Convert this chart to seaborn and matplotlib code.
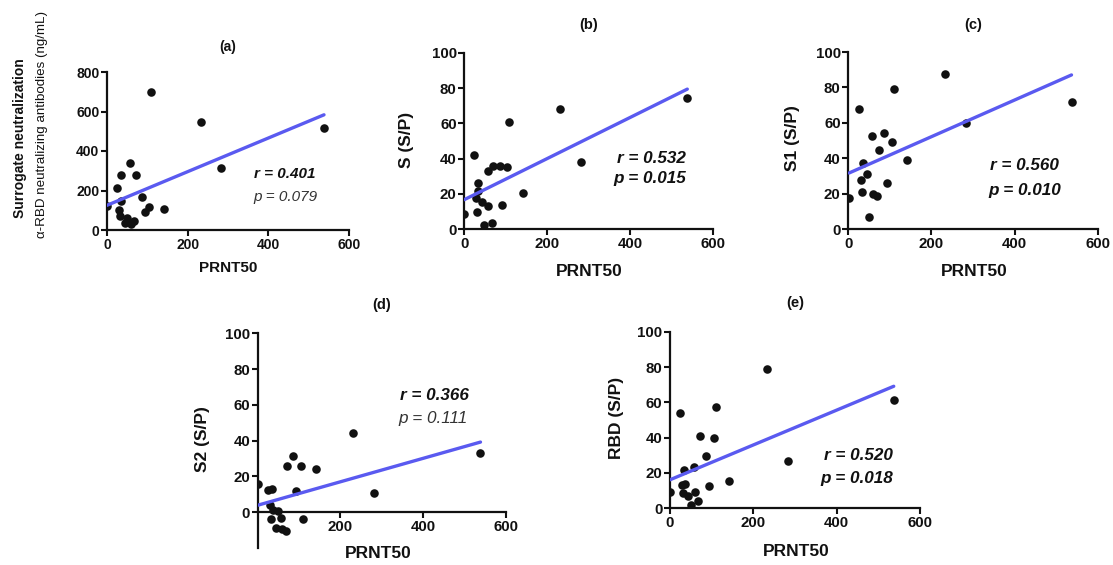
import matplotlib
matplotlib.use("Agg")
import matplotlib.pyplot as plt
import seaborn as sns
import numpy as np
import pandas as pd

sns.set_theme(style="ticks")
plt.rcParams['font.family'] = ['Liberation Sans', 'DejaVu Sans']

# ---- data ----
a_x = [0, 25, 29, 35, 35, 31, 45, 50, 58, 60, 68, 73, 87, 94, 105, 110, 142, 232, 283, 538]
a_y = [123, 214, 101, 281, 147, 71, 37, 62, 340, 29, 47, 281, 168, 93, 115, 699, 104, 546, 315, 517]

b_x = [0, 23, 28, 31, 34, 34, 43, 48, 56, 58, 67, 70, 86, 92, 104, 108, 141, 231, 282, 538]
b_y = [8.5, 42, 17.5, 10, 26.4, 21.7, 15.7, 2.5, 33, 13, 3.4, 36, 36, 14, 35.5, 61, 20.4, 68, 38, 74.5]

c_x = [2, 26, 30, 33, 34.5, 45, 50.5, 58, 58.5, 68, 74, 87, 94, 105, 110, 142, 232.6, 283, 537]
c_y = [17.9, 67.7, 27.8, 20.9, 37.2, 31.2, 7, 52.6, 19.9, 19, 45, 54.5, 26.3, 49, 79, 39, 87.8, 59.8, 72]

d_x = [0, 24, 34, 30, 36, 31, 44, 50, 56, 58, 68, 72, 86, 93, 104, 110, 141, 231, 282, 539]
d_y = [15.9, 12.5, 13, 4.3, 1.0, -3.7, -9, 0.6, -3.4, -9.3, -10.3, 25.8, 31.4, 11.8, 25.6, -4, 24.3, 44.5, 10.8, 33]

e_x = [0, 24, 28, 30.4, 34.4, 36, 44, 49.6, 57.6, 60, 68, 72, 86.4, 93.6, 105, 110, 141.6, 232, 282, 537]
e_y = [9.4, 54, 13.2, 8.5, 21.7, 13.8, 7.2, 1.9, 23.6, 9.4, 4, 41, 29.6, 12.5, 40, 57.4, 15.5, 78.9, 26.6, 61.1]

titles = ["(a)", "(b)", "(c)", "(d)", "(e)"]
ylabels = [None, "S (S/P)", "S1 (S/P)", "S2 (S/P)", "RBD (S/P)"]
r_texts = ["r = 0.401", "r = 0.532", "r = 0.560", "r = 0.366", "r = 0.520"]
p_texts = ["p = 0.079", "p = 0.015", "p = 0.010", "p = 0.111", "p = 0.018"]
p_bold = [False, True, True, False, True]
xlabel = "PRNT50"

W, H = 1113, 565
fig = plt.figure(figsize=(W / 100, H / 100), dpi=100)

def fx(px):
    return px / W

def fy(py):
    return 1 - py / H

# axes rectangles in pixels: left, right, top, bottom
rects = [
    (107, 349, 72, 230),
    (464.3, 713, 52.7, 229.3),
    (848.3, 1097.7, 52, 229.3),
    (257.7, 505.7, 333.3, 548),
    (670, 920, 331.7, 508.3),
]
ylims = [(0, 800), (0, 100), (0, 100), (-20, 100), (0, 100)]
yticks = [np.arange(0, 801, 200), np.arange(0, 101, 20), np.arange(0, 101, 20),
          np.arange(0, 101, 20), np.arange(0, 101, 20)]
data = [(a_x, a_y), (b_x, b_y), (c_x, c_y), (d_x, d_y), (e_x, e_y)]
tick_sizes = [10, 10.8, 10.8, 10.8, 10.8]

line_color = "#5a5af0"
dark = "#111111"

for i, (l, r, t, b) in enumerate(rects):
    ax = fig.add_axes([fx(l), fy(b), fx(r) - fx(l), fy(t) - fy(b)])
    x, y = data[i]
    df = pd.DataFrame({"x": x, "y": y})
    sns.regplot(data=df, x="x", y="y", ax=ax, ci=None,
                scatter_kws=dict(s=38, color=dark, edgecolor=dark, linewidths=0, alpha=1, zorder=2),
                line_kws=dict(color=line_color, lw=2.4, zorder=3))
    ax.set_xlim(0, 600)
    ax.set_ylim(*ylims[i])
    ax.set_yticks(yticks[i])
    ax.set_xlabel("")
    ax.set_ylabel("")
    for s in ["top", "right"]:
        ax.spines[s].set_visible(False)
    for s in ["left", "bottom"]:
        ax.spines[s].set_linewidth(1.6)
        ax.spines[s].set_color(dark)
    ax.tick_params(axis="both", direction="out", length=4, width=1.5, colors=dark,
                   labelsize=tick_sizes[i], pad=1.5)
    if i == 3:
        ax.spines["bottom"].set_position(("data", 0))
        ax.set_xticks([200, 400, 600])
    else:
        ax.set_xticks([0, 200, 400, 600])
    for lab in ax.get_xticklabels() + ax.get_yticklabels():
        lab.set_fontweight("bold")
    ax.patch.set_alpha(0)

# titles
title_pos = [(228, 47), (589, 25), (973, 25), (382, 305), (795, 303)]
title_sizes = [10, 10.5, 10.5, 10.5, 10.5]
for t, (px, py), fs in zip(titles, title_pos, title_sizes):
    fig.text(fx(px), fy(py), t, ha="center", va="center", fontsize=fs, fontweight="bold", color=dark)

# x labels
xlab_pos = [(228.5, 268), (589, 271), (974, 271), (378, 554), (796, 551)]
xlab_sizes = [11, 12.5, 12.5, 12.5, 12.5]
for (px, py), fs in zip(xlab_pos, xlab_sizes):
    fig.text(fx(px), fy(py), xlabel, ha="center", va="center", fontsize=fs, fontweight="bold", color=dark)

# y labels
ylab_pos = [None, (407, 140), (793, 138), (203, 439), (617, 418)]
for lab, pos in zip(ylabels, ylab_pos):
    if lab is None:
        continue
    fig.text(fx(pos[0]), fy(pos[1]), lab, ha="center", va="center", rotation=90,
             fontsize=12.5, fontweight="bold", color=dark)
fig.text(fx(20), fy(138), "Surrogate neutralization", ha="center", va="center", rotation=90,
         fontsize=10, fontweight="bold", color=dark)
fig.text(fx(42), fy(124), "\u03b1-RBD neutralizing antibodies (ng/mL)", ha="center", va="center",
         rotation=90, fontsize=9.6, color=dark)

# stats annotations
r_pos = [(284.7, 174.3), (651.7, 158.3), (1024.7, 166), (434.3, 395.7), (858, 456)]
p_pos = [(285, 196.7), (650, 178.3), (1025, 190.7), (433.3, 419), (856.7, 479)]
r_sizes = [11, 12.3, 12.3, 12.3, 12.3]
for i in range(5):
    fig.text(fx(r_pos[i][0]), fy(r_pos[i][1]), r_texts[i], ha="center", va="center",
             fontsize=r_sizes[i], fontweight="bold", fontstyle="italic", color=dark)
    fig.text(fx(p_pos[i][0]), fy(p_pos[i][1]), p_texts[i], ha="center", va="center",
             fontsize=r_sizes[i], fontweight="bold" if p_bold[i] else "normal",
             fontstyle="italic", color=dark if p_bold[i] else "#333333")

fig.savefig("out.png", dpi=100, facecolor="white")
